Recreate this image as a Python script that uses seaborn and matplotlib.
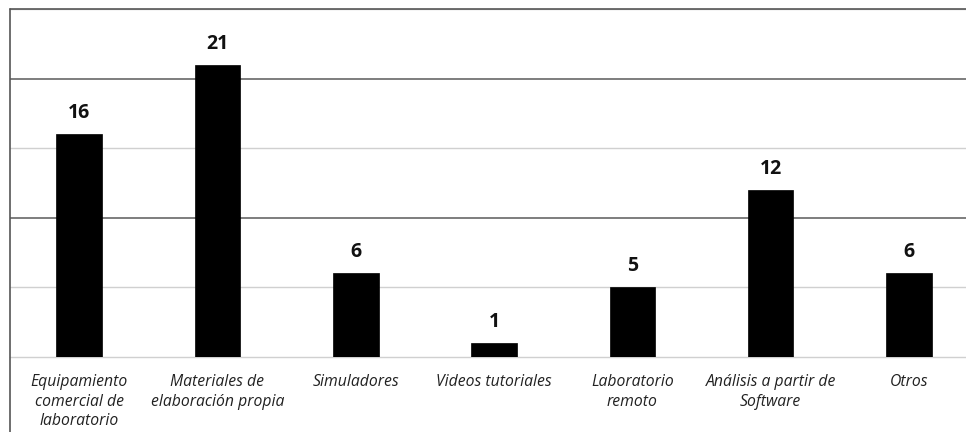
import matplotlib
matplotlib.use("Agg")
import matplotlib.pyplot as plt
from matplotlib.lines import Line2D
import seaborn as sns
import pandas as pd

categorias = [
    "Equipamiento\ncomercial de\nlaboratorio",
    "Materiales de\nelaboración propia",
    "Simuladores",
    "Videos tutoriales",
    "Laboratorio\nremoto",
    "Análisis a partir de\nSoftware",
    "Otros",
]
valores = [16, 21, 6, 1, 5, 12, 6]
niveles_y = [5, 10, 15, 20, 25]

df = pd.DataFrame({"categoria": categorias, "valor": valores})

sns.set_style("white")
plt.rcParams["font.family"] = ["Open Sans", "DejaVu Sans"]

W, H = 966, 432
fig = plt.figure(figsize=(W / 100, H / 100), dpi=100)
ax_left, ax_right = 10, 966
ax_top, ax_bottom = 9, 357
ax = fig.add_axes([ax_left / W, (H - ax_bottom) / H,
                   (ax_right - ax_left) / W, (ax_bottom - ax_top) / H])

sns.barplot(data=df, x="categoria", y="valor", color="black",
            width=0.33, saturation=1, edgecolor="black", linewidth=0.5,
            ax=ax, zorder=3)

# category spacing ~138 px, first center at x=79
paso = 138.3
x0 = -0.5
x1 = x0 + (ax_right - ax_left) / paso
ax.set_xlim(x0, x1)
ax.set_ylim(0, 25)

ax.set_yticks(niveles_y)
ax.set_yticklabels([])
ax.tick_params(axis="y", length=0)
ax.tick_params(axis="x", length=0, pad=12)
ax.yaxis.grid(True, zorder=0)
for y, gl in zip(niveles_y, ax.get_ygridlines()):
    if y in (10, 20):
        gl.set_color("#5a5a5a")
        gl.set_linewidth(1.1)
    else:
        gl.set_color("#d0d0d0")
        gl.set_linewidth(1.0)
ax.set_axisbelow(True)

for side in ("top", "right", "left"):
    ax.spines[side].set_visible(False)
ax.spines["bottom"].set_color("#d0d0d0")
ax.spines["bottom"].set_linewidth(1.0)

ax.set_xlabel("")
ax.set_ylabel("")
ax.set_xticks(range(len(categorias)))
ax.set_xticklabels(categorias, fontsize=11.3, style="italic",
                   color="#222222", linespacing=1.32, va="top")

for i, v in enumerate(valores):
    ax.annotate(str(v), (i, v), xytext=(0, 8), textcoords="offset points",
                ha="center", va="bottom", fontsize=14, fontweight="bold",
                color="#111111")

# outer chart border (left and top edges)
fx = 9.5 / W
fy = 1 - 9 / H
fig.add_artist(Line2D([fx, fx], [0, fy], color="#555555", lw=1.2))
fig.add_artist(Line2D([fx, 1], [fy, fy], color="#555555", lw=1.2))

fig.savefig("out.png", dpi=100)
